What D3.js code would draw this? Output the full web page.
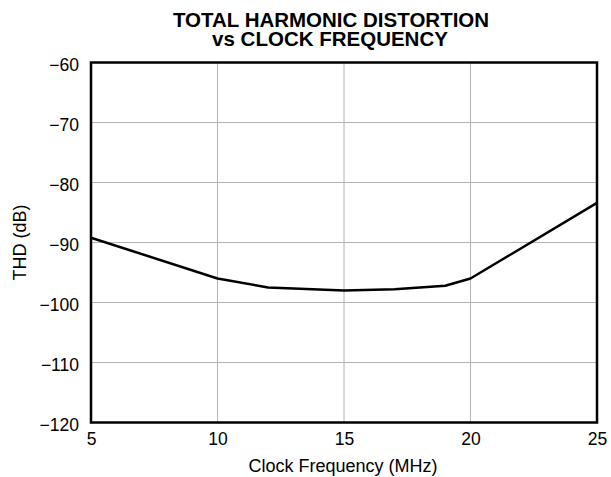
<!DOCTYPE html>
<html>
<head>
<meta charset="utf-8">
<script src="https://cdn.jsdelivr.net/npm/d3@7"></script>
<style>
  body { margin: 0; background: #fff; }
  svg text { font-family: "Liberation Sans", Arial, sans-serif; fill: #000; }
</style>
</head>
<body>
<svg id="chart" width="611" height="477"></svg>
<script>
// clock frequency (MHz) and THD (dB)
const freq = [5, 10, 12, 15, 17, 19, 20, 25]
const thd = [-89.2, -96, -97.5, -98, -97.8, -97.2, -96, -83.4]
const xTicks = [5, 10, 15, 20, 25]
const yTicks = [-60, -70, -80, -90, -100, -110, -120]

const margin = { top: 62.5, right: 14, bottom: 54.5, left: 91 }
const width = 611
const height = 477

const xScale = d3.scaleLinear().domain([5, 25]).range([margin.left, width - margin.right])
const yScale = d3.scaleLinear().domain([-120, -60]).range([height - margin.bottom, margin.top])
const fmt = d => d < 0 ? '\u2212' + Math.abs(d) : String(d)

const svg = d3.select('#chart')

// title
svg.append('text').attr('x', 331).attr('y', 26.7).attr('text-anchor', 'middle')
  .style('font-size', '20.5px').style('font-weight', 'bold').text('TOTAL HARMONIC DISTORTION')
svg.append('text').attr('x', 330).attr('y', 45.7).attr('text-anchor', 'middle')
  .style('font-size', '20.5px').style('font-weight', 'bold').text('vs CLOCK FREQUENCY')

// gridlines
svg.append('g').selectAll('line').data(xTicks.slice(1, -1)).join('line')
  .attr('x1', d => xScale(d)).attr('x2', d => xScale(d))
  .attr('y1', yScale(-60)).attr('y2', yScale(-120))
  .attr('stroke', '#b4b4b4').attr('stroke-width', 1)
svg.append('g').selectAll('line').data(yTicks.slice(1, -1)).join('line')
  .attr('x1', xScale(5)).attr('x2', xScale(25))
  .attr('y1', d => yScale(d)).attr('y2', d => yScale(d))
  .attr('stroke', '#b4b4b4').attr('stroke-width', 1)

// axes (labels only, frame drawn separately)
const xAxis = d3.axisBottom(xScale).tickValues(xTicks).tickSize(0).tickPadding(10).tickFormat(fmt)
const yAxis = d3.axisLeft(yScale).tickValues(yTicks).tickSize(0).tickPadding(12).tickFormat(fmt)

svg.append('g').attr('transform', `translate(0, ${yScale(-120)})`).call(xAxis)
  .call(g => g.select('.domain').remove())
  .selectAll('text').style('font-size', '17.5px').style('font-family', '"Liberation Sans", Arial, sans-serif')
svg.append('g').attr('transform', `translate(${xScale(5)}, 0)`).call(yAxis)
  .call(g => g.select('.domain').remove())
  .selectAll('text').attr('dy', '0.43em')
  .style('font-size', '17.5px').style('font-family', '"Liberation Sans", Arial, sans-serif')

// data line
const line = d3.line().x((d, i) => xScale(freq[i])).y(d => yScale(d))
svg.append('path').attr('d', line(thd))
  .attr('fill', 'none').attr('stroke', '#000').attr('stroke-width', 2.5)
  .attr('stroke-linejoin', 'round')

// frame
svg.append('rect')
  .attr('x', xScale(5)).attr('y', yScale(-60))
  .attr('width', xScale(25) - xScale(5)).attr('height', yScale(-120) - yScale(-60))
  .attr('fill', 'none').attr('stroke', '#000').attr('stroke-width', 2.5)

// axis titles
svg.append('text').attr('x', 343).attr('y', 472).attr('text-anchor', 'middle')
  .style('font-size', '18px').text('Clock Frequency (MHz)')
svg.append('text').attr('transform', `translate(26, ${yScale(-90)}) rotate(-90)`)
  .attr('text-anchor', 'middle').style('font-size', '18px').text('THD (dB)')
</script>
</body>
</html>
